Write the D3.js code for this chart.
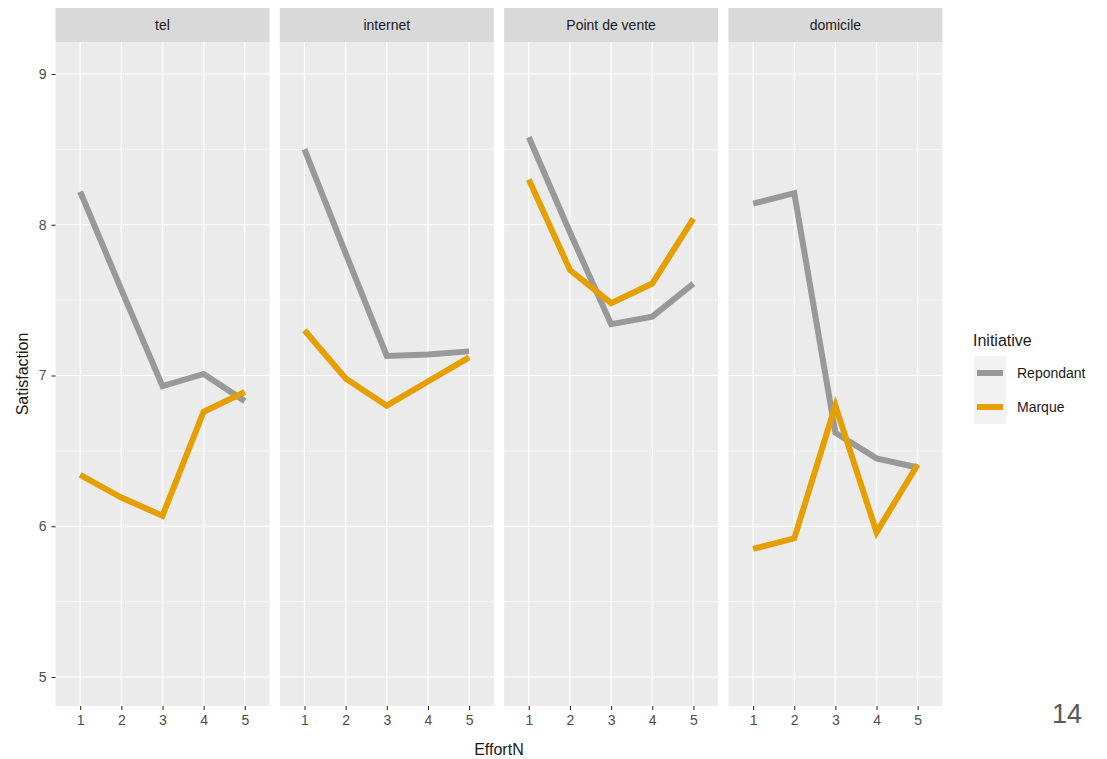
<!DOCTYPE html>
<html><head><meta charset="utf-8">
<script src="https://cdn.jsdelivr.net/npm/d3@7"></script>
<style>body{margin:0;background:#fff;} text{font-family:"Liberation Sans",Arial,sans-serif;}</style>
</head><body>
<svg id="chart" width="1107" height="759"></svg>
<script>
const panels = ["tel", "internet", "Point de vente", "domicile"];
const efforts = [1, 2, 3, 4, 5];
const seriesNames = ["Repondant", "Marque"];
const seriesColors = ["#999999", "#E69F00"];
const repondant = [
  [8.22, 7.57, 6.93, 7.01, 6.83],
  [8.50, 7.81, 7.13, 7.14, 7.16],
  [8.58, 7.95, 7.34, 7.39, 7.61],
  [8.14, 8.21, 6.62, 6.45, 6.39]
];
const marque = [
  [6.34, 6.19, 6.07, 6.76, 6.89],
  [7.30, 6.98, 6.80, 6.96, 7.12],
  [8.30, 7.70, 7.48, 7.61, 8.04],
  [5.85, 5.92, 6.80, 5.96, 6.41]
];
const yTicks = [5, 6, 7, 8, 9];
const yMinor = [5.5, 6.5, 7.5, 8.5];

const svg = d3.select("#chart");
const panelTop = 42, panelBottom = 706, stripTop = 8;
const panelW = 214, panelStep = 224.3, firstLeft = 55.5;

const y = d3.scaleLinear().domain([5, 9]).range([677, 74]);
const x = d3.scaleLinear().domain([0.4, 5.6]).range([0, panelW]);
const seriesData = [repondant, marque];

panels.forEach((name, i) => {
  const left = firstLeft + i * panelStep;
  const g = svg.append("g").attr("transform", `translate(${left},0)`);
  g.append("rect").attr("x", 0).attr("y", panelTop).attr("width", panelW)
    .attr("height", panelBottom - panelTop).attr("fill", "#EBEBEB");
  g.append("rect").attr("x", 0).attr("y", stripTop).attr("width", panelW)
    .attr("height", panelTop - stripTop).attr("fill", "#D9D9D9");
  g.append("text").attr("x", panelW / 2).attr("y", (stripTop + panelTop) / 2 + 5)
    .attr("text-anchor", "middle").attr("font-size", 14).attr("fill", "#1A1A1A").text(name);
  // grid
  g.selectAll(".ymin").data(yMinor).enter().append("line")
    .attr("x1", 0).attr("x2", panelW).attr("y1", d => y(d)).attr("y2", d => y(d))
    .attr("stroke", "#fff").attr("stroke-width", 0.6);
  g.selectAll(".ymaj").data(yTicks).enter().append("line")
    .attr("x1", 0).attr("x2", panelW).attr("y1", d => y(d)).attr("y2", d => y(d))
    .attr("stroke", "#fff").attr("stroke-width", 1.2);
  g.selectAll(".xmaj").data(efforts).enter().append("line")
    .attr("x1", d => x(d)).attr("x2", d => x(d)).attr("y1", panelTop).attr("y2", panelBottom)
    .attr("stroke", "#fff").attr("stroke-width", 1.2);
  // x axis
  const xa = g.append("g").attr("transform", `translate(0,${panelBottom})`)
    .call(d3.axisBottom(x).tickValues(efforts).tickSize(4).tickPadding(5).tickFormat(d3.format("d")));
  xa.select(".domain").remove();
  xa.selectAll("line").attr("stroke", "#333").attr("stroke-width", 1.1);
  xa.selectAll("text").attr("font-size", 14).attr("fill", "#4D4D4D")
    .attr("font-family", "Liberation Sans, Arial, sans-serif");
  // lines
  const line = d3.line().x((d, j) => x(efforts[j])).y(d => y(d));
  seriesData.forEach((s, k) => {
    g.append("path").datum(s[i]).attr("d", line).attr("fill", "none")
      .attr("stroke", seriesColors[k]).attr("stroke-width", 6);
  });
});

// y axis
const ya = svg.append("g").attr("transform", `translate(${firstLeft},0)`)
  .call(d3.axisLeft(y).tickValues(yTicks).tickSize(4).tickPadding(5).tickFormat(d3.format("d")));
ya.select(".domain").remove();
ya.selectAll("line").attr("stroke", "#333").attr("stroke-width", 1.1);
ya.selectAll("text").attr("font-size", 14).attr("fill", "#4D4D4D")
  .attr("font-family", "Liberation Sans, Arial, sans-serif");

// axis titles
const plotRight = firstLeft + 3 * panelStep + panelW;
svg.append("text").attr("x", (firstLeft + plotRight) / 2).attr("y", 755)
  .attr("text-anchor", "middle").attr("font-size", 16).attr("fill", "#1A1A1A").text("EffortN");
svg.append("text").attr("transform", `translate(28,${(panelTop + panelBottom) / 2}) rotate(-90)`)
  .attr("text-anchor", "middle").attr("font-size", 16).attr("fill", "#1A1A1A").text("Satisfaction");

// legend
const lg = svg.append("g");
lg.append("text").attr("x", 973).attr("y", 346).attr("font-size", 16).attr("fill", "#1A1A1A").text("Initiative");
seriesNames.forEach((n, k) => {
  const ky = 356 + k * 34;
  lg.append("rect").attr("x", 974).attr("y", ky).attr("width", 32).attr("height", 34).attr("fill", "#F2F2F2");
  lg.append("line").attr("x1", 977).attr("x2", 1003).attr("y1", ky + 17).attr("y2", ky + 17)
    .attr("stroke", seriesColors[k]).attr("stroke-width", 6);
  lg.append("text").attr("x", 1017).attr("y", ky + 22).attr("font-size", 14).attr("fill", "#1A1A1A").text(n);
});

// page number
svg.append("text").attr("x", 1052).attr("y", 723).attr("font-size", 27).attr("fill", "#595959").text("14");
</script>
</body></html>
